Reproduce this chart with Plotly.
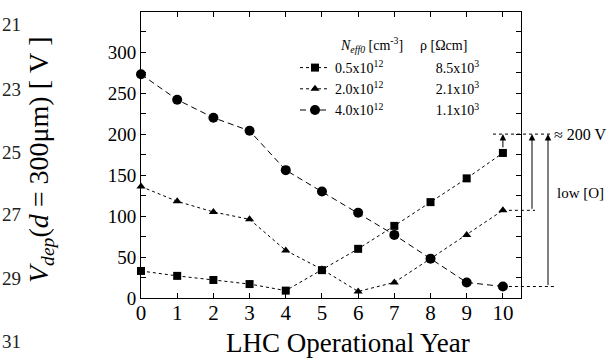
import plotly.graph_objects as go

# ---------------- data ----------------
years = list(range(11))
v_sq = [33, 27, 22, 17, 9, 34, 60, 88, 117, 146, 177]      # N_eff0 = 0.5e12
v_tri = [136, 118, 105, 96, 58, 35, 8, 19, 48, 77, 107]    # N_eff0 = 2.0e12
v_circ = [273, 242, 220, 204, 156, 130, 104, 77, 48, 19, 14]  # N_eff0 = 4.0e12
neff_labels = ["0.5x10<sup>12</sup>", "2.0x10<sup>12</sup>", "4.0x10<sup>12</sup>"]
rho_labels = ["8.5x10<sup>3</sup>", "2.1x10<sup>3</sup>", "1.1x10<sup>3</sup>"]
target_v = 200
line_numbers = ["21", "23", "25", "27", "29", "31"]

X_MAX = 10.5
Y_MAX = 349
FONT = "Liberation Serif, Times New Roman, serif"

W, H = 614, 359
ML, MR, MT, MB = 141, 93, 12, 61
PW, PH = W - ML - MR, H - MT - MB


def px2paper_x(px):
    return (px - ML) / PW


def px2paper_y(py):
    return (H - MB - py) / PH


NB = "\u00a0"

fig = go.Figure()

series = [
    (v_tri, "triangle-up", 8, "3px,3px", 1, neff_labels[1], rho_labels[1]),
    (v_sq, "square", 8, "3px,3px", 0, neff_labels[0], rho_labels[0]),
    (v_circ, "circle", 10, "6px,4px", 2, neff_labels[2], rho_labels[2]),
]
for vals, sym, size, dash, rank, nlab, rlab in series:
    fig.add_trace(go.Scatter(
        x=years, y=vals, mode="lines+markers",
        line=dict(color="black", width=1, dash=dash),
        marker=dict(symbol=sym, size=size, color="black", line=dict(width=0)),
        name=nlab + NB * 15 + rlab,
        legendrank=rank,
        cliponaxis=False,
    ))

# guide lines (dotted) on the right
x_last = years[-1]
x_last_paper = x_last / X_MAX
guides = [
    (target_v, px2paper_x(493), px2paper_x(551)),
    (v_tri[-1], x_last_paper, px2paper_x(535)),
    (v_circ[-1], x_last_paper, px2paper_x(555)),
]
for yv, x0, x1 in guides:
    fig.add_shape(type="line", xref="paper", yref="paper",
                  x0=x0, x1=x1, y0=yv / Y_MAX, y1=yv / Y_MAX,
                  line=dict(color="black", width=1, dash="3px,3px"))

# arrows
arrow_specs = [
    (x_last_paper, v_sq[-1] + 5),
    (px2paper_x(532), v_tri[-1]),
    (px2paper_x(548), v_circ[-1]),
]
for xp, ystart in arrow_specs:
    fig.add_annotation(xref="paper", yref="y", x=xp, y=target_v,
                       axref="pixel", ayref="y", ax=0, ay=ystart,
                       text="", showarrow=True, arrowhead=2, arrowsize=1.3,
                       arrowwidth=1, arrowcolor="black", standoff=0, startstandoff=0)

fig.add_annotation(xref="paper", yref="y", x=px2paper_x(552), y=target_v,
                   xanchor="left", yanchor="middle", showarrow=False,
                   text="\u2248 200 V", font=dict(family=FONT, size=16, color="black"))
fig.add_annotation(xref="paper", yref="paper", x=px2paper_x(555), y=px2paper_y(193),
                   xanchor="left", yanchor="middle", showarrow=False,
                   text="low [O]", font=dict(family=FONT, size=15, color="black"))

# legend header
fig.add_annotation(xref="paper", yref="paper", x=px2paper_x(338), y=px2paper_y(45),
                   xanchor="left", yanchor="middle", showarrow=False,
                   text="<i>N</i><sub><i>eff0</i></sub> [cm<sup>-3</sup>]",
                   font=dict(family=FONT, size=14, color="black"))
fig.add_annotation(xref="paper", yref="paper", x=px2paper_x(418), y=px2paper_y(45),
                   xanchor="left", yanchor="middle", showarrow=False,
                   text="ρ [Ωcm]",
                   font=dict(family=FONT, size=14, color="black"))

# axis titles
fig.add_annotation(xref="paper", yref="paper", x=px2paper_x(348), y=px2paper_y(343),
                   xanchor="center", yanchor="middle", showarrow=False,
                   text="LHC Operational Year", font=dict(family=FONT, size=27, color="black"))
fig.add_annotation(xref="paper", yref="paper", x=px2paper_x(40), y=px2paper_y(160),
                   xanchor="center", yanchor="middle", showarrow=False, textangle=-90,
                   text="<i>V</i><sub><i>dep</i></sub>(<i>d</i>" + NB + "=" + NB + "300μm)" + NB + "[" + NB + "V" + NB + "]",
                   font=dict(family=FONT, size=28, color="black"))

# line numbers at left margin
ln_y = [25, 89, 152, 214, 278, 342]
for lab, yy in zip(line_numbers, ln_y):
    fig.add_annotation(xref="paper", yref="paper", x=px2paper_x(0), y=px2paper_y(yy),
                       xanchor="left", yanchor="middle", showarrow=False,
                       text=lab, font=dict(family=FONT, size=19, color="#222"))

axis_common = dict(showline=True, linecolor="black", linewidth=1, mirror="ticks",
                   ticks="inside", tickcolor="black", tickwidth=1, showgrid=False,
                   zeroline=False)

fig.update_xaxes(range=[0, X_MAX], dtick=1, tick0=0, ticklen=5, ticklabelstandoff=-4,
                 tickfont=dict(family=FONT, size=21, color="black"), **axis_common)
fig.update_yaxes(range=[0, Y_MAX], dtick=50, tick0=0, ticklen=5, ticklabelstandoff=0,
                 minor=dict(dtick=25, ticks="inside", ticklen=5, tickcolor="black"),
                 tickfont=dict(family=FONT, size=19, color="black"), **axis_common)

fig.update_layout(
    width=W, height=H,
    margin=dict(l=ML, r=MR, t=MT, b=MB, pad=0),
    plot_bgcolor="white", paper_bgcolor="white",
    showlegend=True,
    legend=dict(
        x=px2paper_x(295), y=px2paper_y(52), xanchor="left", yanchor="top",
        bgcolor="rgba(0,0,0,0)", borderwidth=0,
        font=dict(family=FONT, size=14, color="black"),
        tracegroupgap=0,
    ),
    font=dict(family=FONT, color="black"),
)

fig.write_html("out.html")
